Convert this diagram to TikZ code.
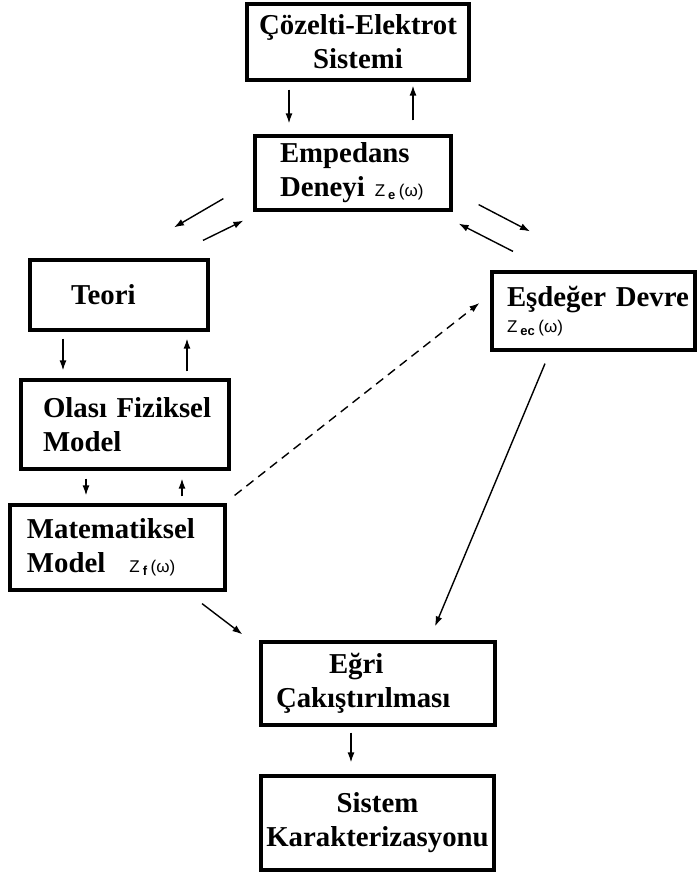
\documentclass[tikz,border=0pt]{standalone}
\usepackage{fontspec}
\setmainfont{Liberation Serif}
\newfontfamily\zfont{Liberation Sans}
\usetikzlibrary{calc}
\usetikzlibrary{arrows.meta}
\tikzset{>={Latex[length=10pt,width=7pt]}}
\tikzstyle{box}=[draw,line width=3.2pt,inner ysep=0pt,align=left,font=\bfseries\fontsize{28.8}{34}\selectfont]
\tikzstyle{link}=[->,line width=1.4pt]
\tikzstyle{dashlink}=[->,line width=1.4pt,dash pattern=on 9pt off 6pt]
\newcommand{\Zw}[1]{{\zfont\mdseries\fontsize{17}{19}\selectfont Z\hspace{3pt}\raisebox{-3pt}{\fontsize{13}{13}\selectfont\bfseries #1}\hspace{3.5pt}(ω)}}

\begin{document}
\begin{tikzpicture}[x=1pt,y=-1pt]
  \useasboundingbox (0,0) rectangle (696,877);

  % BOXES
  \node[box,align=center,text width=214pt,inner xsep=4pt,minimum height=76pt] (cozelti) at (358,42) {Çözelti-Elektrot\\Sistemi};
  \node[box,text width=146pt,inner xsep=25pt,minimum height=74pt] (empedans) at (353,173) {Empedans\\\mbox{Deneyi\hspace{10pt}\Zw{e}}};
  \node[box,text width=96pt,inner xsep=41pt,minimum height=70pt] (teori) at (119,295) {Teori};
  \node[box,text width=164pt,inner xsep=22pt,minimum height=89pt] (olasi) at (125,424.5) {\mbox{Olası Fiziksel}\\Model};
  \node[box,text width=181pt,inner xsep=17pt,minimum height=85pt] (mat) at (117.5,547.5) {Matematiksel\\\mbox{Model\hspace{24pt}\Zw{f}}};
  \node[box,text width=173pt,inner xsep=15pt,minimum height=78pt] (esdeger) at (593.5,311) {\mbox{Eşdeğer Devre}\\[-8pt]\Zw{ec}};
  \node[box,text width=204pt,inner xsep=15pt,minimum height=83pt] (egri) at (378,683.5) {\hspace*{53pt}Eğri\\Çakıştırılması};
  \node[box,align=center,text width=229pt,inner xsep=2pt,minimum height=94pt] (sistem) at (377.5,823) {Sistem\\Karakterizasyonu};

  % ARROWS
  \draw[link] ($(cozelti.south)+(-69,8)$) -- ($(empedans.north)+(-64,-11)$);
  \draw[link] ($(empedans.north)+(60,-14)$) -- ($(cozelti.south)+(55,4)$);
  \draw[link] ($(empedans.south west)+(-30,-13)$) -- ($(teori.north)+(55,-31)$);
  \draw[link] ($(teori.north)+(84,-18)$) -- ($(empedans.south west)+(-10,9)$);
  \draw[link] ($(empedans.south east)+(26,-7)$) -- ($(esdeger.north)+(-63.5,-39)$);
  \draw[link] ($(esdeger.north)+(-80.5,-19)$) -- ($(empedans.south east)+(6,12)$);
  \draw[link] ($(teori.south)+(-56,7)$) -- ($(olasi.north)+(-62,-8)$);
  \draw[link] ($(olasi.north)+(62,-7)$) -- ($(teori.south)+(68,7)$);
  \draw[link] ($(olasi.south)+(-39,8)$) -- ($(mat.north)+(-31.5,-8)$);
  \draw[link] ($(mat.north)+(64.5,-7)$) -- ($(olasi.south)+(57,8)$);
  \draw[dashlink] ($(mat.north east)+(8,-8)$) -- ($(esdeger.west)+(-11,-8)$);
  \draw[link] ($(mat.south)+(84.5,12)$) -- ($(egri.north west)+(-17,-6)$);
  \draw[link] ($(esdeger.south)+(-48.5,12)$) -- ($(egri.north)+(57,-14)$);
  \draw[link] ($(egri.south)+(-27,6)$) -- ($(sistem.north)+(-26.5,-12)$);

\end{tikzpicture}
\end{document}
